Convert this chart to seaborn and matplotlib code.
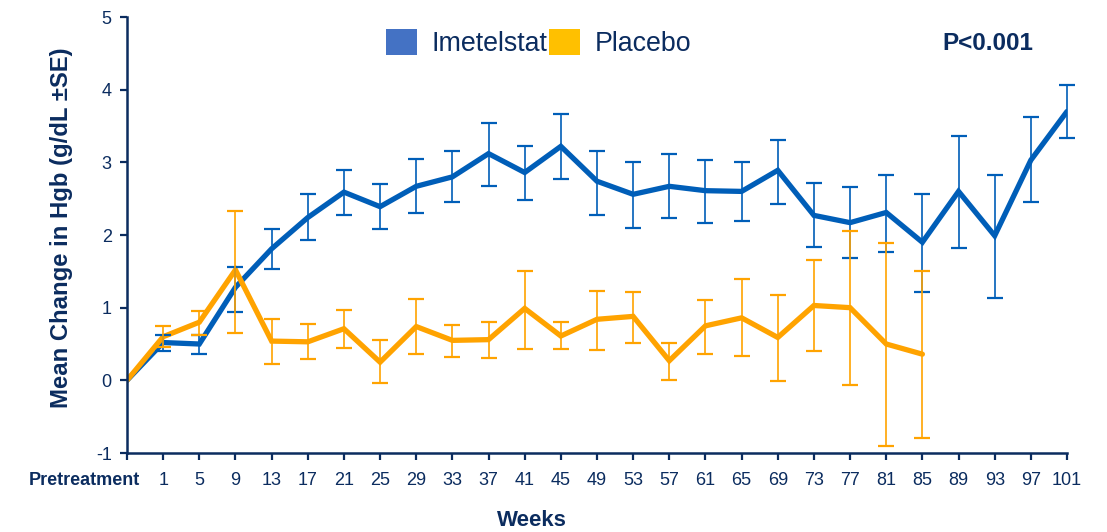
import numpy as np
import pandas as pd
import matplotlib
matplotlib.use("Agg")
import matplotlib.pyplot as plt
from matplotlib.patches import Patch
from matplotlib.transforms import ScaledTranslation
import seaborn as sns

# Visit labels along the x axis
weeks = ["Pretreatment", "1", "5", "9", "13", "17", "21", "25", "29", "33", "37",
         "41", "45", "49", "53", "57", "61", "65", "69", "73", "77", "81", "85",
         "89", "93", "97", "101"]

# Imetelstat: mean change in Hgb and SE bounds
imet_mean = [0.0, 0.52, 0.50, 1.28, 1.81, 2.24, 2.59, 2.39, 2.67, 2.80, 3.12,
             2.86, 3.22, 2.74, 2.56, 2.67, 2.61, 2.60, 2.89, 2.27, 2.17, 2.31,
             1.90, 2.60, 1.99, 3.03, 3.70]
imet_upper = [None, 0.62, 0.63, 1.56, 2.08, 2.56, 2.89, 2.70, 3.04, 3.15, 3.54,
              3.23, 3.66, 3.15, 3.00, 3.12, 3.03, 3.01, 3.31, 2.71, 2.66, 2.82,
              2.57, 3.36, 2.83, 3.62, 4.06]
imet_lower = [None, 0.41, 0.36, 0.94, 1.53, 1.93, 2.27, 2.08, 2.30, 2.45, 2.67,
              2.48, 2.77, 2.28, 2.10, 2.23, 2.17, 2.19, 2.43, 1.83, 1.68, 1.77,
              1.22, 1.82, 1.13, 2.45, 3.33]

# Placebo: mean change in Hgb and SE bounds (through week 85)
plac_mean = [0.0, 0.60, 0.80, 1.52, 0.54, 0.53, 0.71, 0.25, 0.74, 0.55, 0.56,
             0.99, 0.61, 0.84, 0.88, 0.27, 0.75, 0.86, 0.59, 1.03, 1.00, 0.50,
             0.36]
plac_upper = [None, 0.75, 0.95, 2.33, 0.84, 0.77, 0.97, 0.55, 1.12, 0.76, 0.80,
              1.51, 0.80, 1.23, 1.22, 0.51, 1.11, 1.39, 1.17, 1.66, 2.06, 1.89,
              1.50]
plac_lower = [None, 0.46, 0.63, 0.65, 0.23, 0.29, 0.44, -0.04, 0.36, 0.32, 0.31,
              0.43, 0.43, 0.42, 0.52, 0.01, 0.36, 0.33, -0.01, 0.40, -0.07, -0.91,
              -0.80]

yticks = [-1, 0, 1, 2, 3, 4, 5]

NAVY = "#0B2C5F"
BLUE = "#005EB8"
ORANGE = "#FFA300"
LEG_BLUE = "#4472C4"
LEG_GOLD = "#FFC000"

sns.set_theme(style="white")
plt.rcParams["font.family"] = ["Liberation Sans", "DejaVu Sans"]

imet = pd.DataFrame({"pos": np.arange(len(imet_mean)), "value": imet_mean,
                     "upper": imet_upper, "lower": imet_lower})
plac = pd.DataFrame({"pos": np.arange(len(plac_mean)), "value": plac_mean,
                     "upper": plac_upper, "lower": plac_lower})

fig = plt.figure(figsize=(11.07, 5.32), dpi=100)
ax = fig.add_axes([127 / 1107, 1 - 453 / 532, (1067 - 127) / 1107, (453 - 17) / 532])

for df, color in [(imet, BLUE), (plac, ORANGE)]:
    sns.lineplot(data=df, x="pos", y="value", color=color, linewidth=3.8,
                 ax=ax, legend=False, solid_joinstyle="miter")
    eb = df.dropna(subset=["upper"])
    cont = ax.errorbar(eb["pos"], eb["value"],
                       yerr=[eb["value"] - eb["lower"].astype(float),
                             eb["upper"].astype(float) - eb["value"]],
                       fmt="none", ecolor=color, elinewidth=1.2, capsize=6,
                       capthick=1.6, zorder=3)
    for artist in cont.lines[1] + cont.lines[2]:
        artist.set_clip_on(False)

ax.set_xlim(0, len(weeks) - 1)
ax.set_ylim(-1, 5)
ax.set_xticks(range(len(weeks)))
ax.set_xticklabels(weeks)
ax.set_yticks(yticks)
ax.set_yticklabels([str(v) for v in yticks])
ax.set_xlabel("")
ax.set_ylabel("")

for side in ["top", "right"]:
    ax.spines[side].set_visible(False)
for side in ["left", "bottom"]:
    ax.spines[side].set_color(NAVY)
    ax.spines[side].set_linewidth(1.8)

ax.tick_params(axis="x", direction="out", length=5, width=1.6, color=NAVY,
               labelsize=13, labelcolor=NAVY, pad=9, bottom=True)
ax.tick_params(axis="y", direction="out", length=5, width=1.6, color=NAVY,
               labelsize=13, labelcolor=NAVY, pad=6, left=True)

first = ax.get_xticklabels()[0]
first.set_fontweight("bold")
first.set_horizontalalignment("right")
first.set_transform(first.get_transform() + ScaledTranslation(13 / 100, 0, fig.dpi_scale_trans))

fig.text(62 / 1107, 1 - 228 / 532, "Mean Change in Hgb (g/dL \u00b1SE)",
         fontsize=17.2, fontweight="bold", color=NAVY, rotation=90,
         ha="center", va="center")
fig.text(532 / 1107, 1 - 521 / 532, "Weeks", fontsize=16, fontweight="bold",
         color=NAVY, ha="center", va="center")
fig.text(988 / 1107, 1 - 44 / 532, "P<0.001", fontsize=17.5, fontweight="bold",
         color=NAVY, ha="center", va="center")

handles = [Patch(facecolor=LEG_BLUE, edgecolor="none", label="Imetelstat"),
           Patch(facecolor=LEG_GOLD, edgecolor="none", label="Placebo")]
fig.legend(handles=handles, ncol=2, loc="center left",
           bbox_to_anchor=(386 / 1107, 1 - 43 / 532), frameon=False,
           fontsize=19.3, handlelength=1.15, handleheight=1.15,
           handletextpad=0.55, columnspacing=0.05, labelcolor=NAVY,
           borderaxespad=0, borderpad=0)

fig.savefig("out.png", dpi=100)
